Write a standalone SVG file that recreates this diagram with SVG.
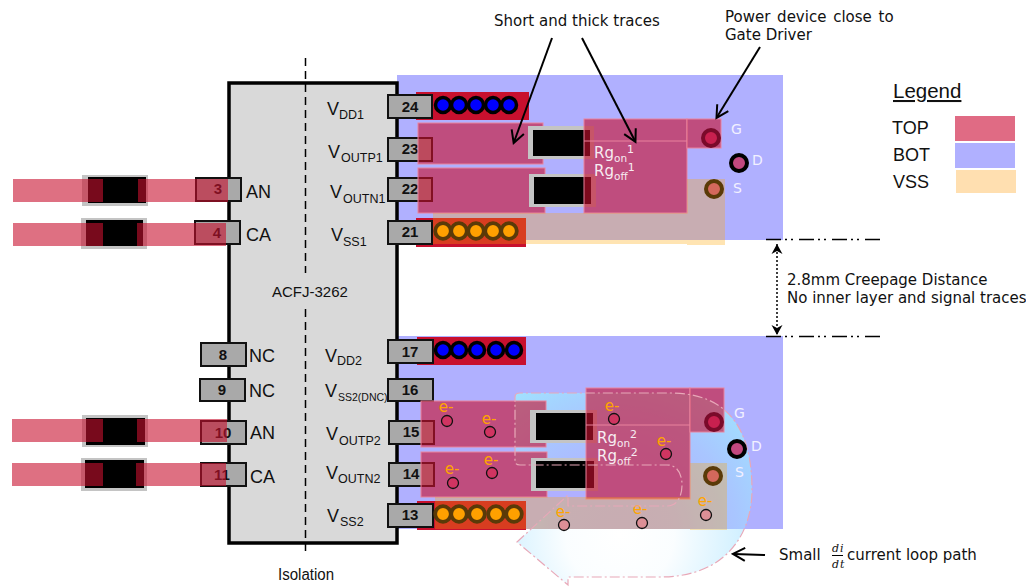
<svg xmlns="http://www.w3.org/2000/svg" width="1026" height="588" viewBox="0 0 1026 588">
<style>
text{font-family:"Liberation Sans",Arial,sans-serif;fill:#111}
.v{font-family:"DejaVu Sans",Verdana,sans-serif;font-size:15px}
.lab{font-size:18px}
.sub{font-size:12.500px}
.num{font-size:15px;font-weight:bold;text-anchor:middle}
.pin{fill:#a9a9a9;stroke:#111;stroke-width:2}
.top{fill:#c8102e;fill-opacity:.6}
.pad{fill:#c8102e;fill-opacity:.62;stroke:#e9839d;stroke-width:1}
.vss{fill:#ffa500;fill-opacity:.3}
.strip{fill:#c8102e}
.halo{fill:#c4c4c4}
.blk{fill:#000}
.vb{fill:#0000ff;stroke:#000;stroke-width:3.500}
.vo{fill:#ffa000;stroke:#5a3a08;stroke-width:3.800}
.lbl{font-family:"DejaVu Sans",Verdana,sans-serif;font-size:14px;fill:#f2f0ff}
.rg{font-family:"DejaVu Sans",Verdana,sans-serif;fill:#f7ecf2;font-size:15px}
.e{font-family:"DejaVu Sans",Verdana,sans-serif;fill:#ffa500;font-size:15px;text-anchor:middle}
.ev{fill:#d2305c;fill-opacity:.85;stroke:#111;stroke-width:1.300}
.ar{fill:none;stroke:#000;stroke-width:2}
</style>
<defs>
<radialGradient id="loopG" gradientUnits="userSpaceOnUse" cx="620" cy="535" r="180">
<stop offset="0" stop-color="#a0e0ff" stop-opacity="0"/><stop offset=".3" stop-color="#a0e0ff" stop-opacity=".05"/><stop offset=".65" stop-color="#a0e0ff" stop-opacity=".45"/><stop offset="1" stop-color="#a0e4ff" stop-opacity="1"/>
</radialGradient>
<marker id="op" markerWidth="16" markerHeight="16" refX="13" refY="8" orient="auto" markerUnits="userSpaceOnUse">
<path d="M2 1.500L14 8L2 14.500" fill="none" stroke="#000" stroke-width="2"/>
</marker>
<marker id="dotE" markerWidth="12" markerHeight="12" refX="10" refY="6" orient="auto-start-reverse" markerUnits="userSpaceOnUse">
<path d="M0 .5L10 6L0 11.500L3 6Z" fill="#000"/>
</marker>
</defs>

<g id="board">
<rect x="397" y="75" width="386" height="165" fill="#b0b0ff"/>
<rect x="397" y="336" width="386" height="193" fill="#b0b0ff"/>
</g>

<g id="loop-fill">
<path d="M515 397Q515 393 520 393H670C725 393 752 425 752 490C752 535 725 577 660 577H568V585L517 542L568 495V506H667C678 506 682 495 682 485C682 475 678 465 667 465H520Q515 465 515 461Z" fill="url(#loopG)"/>
</g>

<g id="chip">
<rect x="229" y="83" width="168" height="460" fill="#d9d9d9" stroke="#000" stroke-width="3.500"/>
<path d="M305.500 58V273M305.500 309V556" stroke="#000" stroke-width="1.500" stroke-dasharray="8 5" fill="none"/>
<text x="272" y="297" font-size="15">ACFJ-3262</text>
<text x="278" y="580" font-size="16" textLength="56" lengthAdjust="spacingAndGlyphs">Isolation</text>
</g>

<g id="strips">
<rect class="strip" x="416" y="92" width="113" height="28"/>
<rect class="strip" x="416" y="218" width="110" height="29"/>
<rect class="strip" x="417" y="337" width="109" height="28"/>
<rect class="strip" x="417" y="501" width="109" height="29"/>
</g>

<g id="pins-right">
<g id="pin24"><rect class="pin" x="388" y="95" width="44" height="23"/><text class="num" x="410" y="112">24</text></g>
<g id="pin23"><rect class="pin" x="388" y="138" width="44" height="23"/><text class="num" x="410" y="154">23</text></g>
<g id="pin22"><rect class="pin" x="388" y="178" width="44" height="23"/><text class="num" x="410" y="194">22</text></g>
<g id="pin21"><rect class="pin" x="388" y="221" width="44" height="23"/><text class="num" x="410" y="237">21</text></g>
<g id="pin17"><rect class="pin" x="388" y="340" width="45" height="23"/><text class="num" x="410" y="357">17</text></g>
<g id="pin16"><rect class="pin" x="388" y="379" width="45" height="22"/><text class="num" x="410" y="395">16</text></g>
<g id="pin15"><rect class="pin" x="389" y="421" width="45" height="23"/><text class="num" x="411" y="437">15</text></g>
<g id="pin14"><rect class="pin" x="389" y="463" width="45" height="23"/><text class="num" x="411" y="479">14</text></g>
<g id="pin13"><rect class="pin" x="388" y="504" width="45" height="23"/><text class="num" x="410" y="520">13</text></g>
</g>
<g id="pins-left">
<g id="pin3"><rect class="pin" x="196" y="178" width="45" height="23"/><text class="num" x="218" y="194">3</text></g>
<g id="pin4"><rect class="pin" x="195" y="221" width="45" height="23"/><text class="num" x="217" y="238">4</text></g>
<g id="pin8"><rect class="pin" x="201" y="343" width="45" height="23"/><text class="num" x="223" y="360">8</text></g>
<g id="pin9"><rect class="pin" x="200" y="379" width="45" height="22"/><text class="num" x="222" y="395">9</text></g>
<g id="pin10"><rect class="pin" x="201" y="421" width="45" height="23"/><text class="num" x="223" y="438">10</text></g>
<g id="pin11"><rect class="pin" x="201" y="463" width="45" height="23"/><text class="num" x="222" y="480">11</text></g>
</g>

<g id="chip-labels">
<text class="lab" x="246" y="198">AN</text><text class="lab" x="246" y="241">CA</text>
<text class="lab" x="249" y="362">NC</text><text class="lab" x="249" y="397">NC</text>
<text class="lab" x="250" y="439">AN</text><text class="lab" x="250" y="483">CA</text>
<text class="lab" x="327" y="115">V</text><text class="sub" x="339" y="119">DD1</text>
<text class="lab" x="328" y="158">V</text><text class="sub" x="341" y="162">OUTP1</text>
<text class="lab" x="330" y="198">V</text><text class="sub" x="343" y="203">OUTN1</text>
<text class="lab" x="331" y="241">V</text><text class="sub" x="343" y="246">SS1</text>
<text class="lab" x="325" y="362">V</text><text class="sub" x="337" y="365">DD2</text>
<text class="lab" x="325" y="397">V</text><text x="338" y="401" font-size="10.500">SS2(DNC)</text>
<text class="lab" x="326" y="440">V</text><text class="sub" x="339" y="445">OUTP2</text>
<text class="lab" x="326" y="479">V</text><text class="sub" x="338" y="483">OUTN2</text>
<text class="lab" x="327" y="522">V</text><text class="sub" x="340" y="526">SS2</text>
</g>

<g id="diodes">
<g id="d1"><rect class="halo" x="82" y="175" width="66" height="31"/><rect class="blk" x="88" y="177" width="58" height="26"/></g>
<g id="d2"><rect class="halo" x="81" y="218" width="66" height="31"/><rect class="blk" x="86" y="220" width="57" height="26"/></g>
<g id="d3"><rect class="halo" x="82" y="415" width="66" height="32"/><rect class="blk" x="86" y="418" width="59" height="27"/></g>
<g id="d4"><rect class="halo" x="81" y="458" width="66" height="33"/><rect class="blk" x="85" y="460" width="59" height="28"/></g>
</g>
<g id="traces-left">
<rect class="top" x="13" y="179" width="90" height="23"/><rect class="top" x="138" y="179" width="90" height="23"/>
<rect class="top" x="13" y="223" width="90" height="23"/><rect class="top" x="137" y="223" width="89" height="23"/>
<rect class="top" x="12" y="419" width="91" height="23"/><rect class="top" x="137" y="419" width="90" height="23"/>
<rect class="top" x="12" y="463" width="91" height="23"/><rect class="top" x="136" y="463" width="90" height="23"/>
</g>

<g id="upper-layout">
<rect class="pad" x="418" y="123" width="125" height="41"/>
<rect class="pad" x="418" y="168" width="127" height="45"/>
<g id="r1"><rect class="halo" x="528" y="126" width="66" height="33"/><rect class="blk" x="533" y="130" width="57" height="26"/></g>
<g id="r2"><rect class="halo" x="529" y="174" width="67" height="33"/><rect class="blk" x="534" y="177" width="57" height="27"/></g>
<rect class="pad" x="584" y="119" width="103" height="94"/>
<path d="M584 141H687" stroke="#e9839d" stroke-width="1" fill="none"/>
<rect class="pad" x="687" y="119" width="34" height="29"/>
<rect class="vss" x="433" y="213" width="254" height="31"/>
<rect class="vss" x="687" y="179" width="38" height="66"/>
<circle class="vb" cx="443" cy="105" r="7.500"/><circle class="vb" cx="459" cy="105" r="7.500"/><circle class="vb" cx="476" cy="105" r="7.500"/><circle class="vb" cx="493" cy="105" r="7.500"/><circle class="vb" cx="509" cy="105" r="7.500"/>
<circle class="vo" cx="443" cy="231" r="7.800"/><circle class="vo" cx="459" cy="231" r="7.800"/><circle class="vo" cx="476" cy="231" r="7.800"/><circle class="vo" cx="493" cy="231" r="7.800"/><circle class="vo" cx="509" cy="231" r="7.800"/>
<g id="G1"><circle cx="711" cy="138" r="8" fill="#c8204f" stroke="#7a0a2a" stroke-width="4"/><text class="lbl" x="731" y="134">G</text></g>
<g id="D1"><circle cx="739" cy="163" r="8" fill="#c2487f" stroke="#000" stroke-width="4"/><text class="lbl" x="752" y="165">D</text></g>
<g id="S1"><circle cx="714" cy="189" r="8" fill="#d4685c" stroke="#5a3a08" stroke-width="4"/><text class="lbl" x="733" y="193">S</text></g>
<text class="rg" x="594" y="158">Rg<tspan font-size="10.500" dy="4">on</tspan><tspan font-size="11" dy="-9">1</tspan></text>
<text class="rg" x="594" y="176">Rg<tspan font-size="10.500" dy="4">off</tspan><tspan font-size="11" dy="-9">1</tspan></text>
</g>

<g id="lower-layout">
<rect class="pad" x="421" y="401" width="125" height="46"/>
<rect class="pad" x="421" y="452" width="126" height="45"/>
<g id="r3"><rect class="halo" x="530" y="410" width="67" height="33"/><rect class="blk" x="536" y="413" width="57" height="27"/></g>
<g id="r4"><rect class="halo" x="531" y="458" width="67" height="33"/><rect class="blk" x="536" y="461" width="58" height="27"/></g>
<rect class="pad" x="586" y="388" width="104" height="111"/>
<path d="M586 425H690" stroke="#e9839d" stroke-width="1" fill="none"/>
<rect class="pad" x="690" y="388" width="34" height="44"/>
<rect class="vss" x="435" y="497" width="255" height="32"/>
<rect class="vss" x="690" y="463" width="37" height="67"/>
<circle class="vb" cx="443" cy="350" r="7.500"/><circle class="vb" cx="459" cy="350" r="7.500"/><circle class="vb" cx="477" cy="350" r="7.500"/><circle class="vb" cx="496" cy="350" r="7.500"/><circle class="vb" cx="514" cy="350" r="7.500"/>
<circle class="vo" cx="443" cy="514" r="7.800"/><circle class="vo" cx="459" cy="514" r="7.800"/><circle class="vo" cx="477" cy="514" r="7.800"/><circle class="vo" cx="496" cy="514" r="7.800"/><circle class="vo" cx="514" cy="514" r="7.800"/>
<text class="rg" x="597" y="443">Rg<tspan font-size="10.500" dy="4">on</tspan><tspan font-size="11" dy="-9">2</tspan></text>
<text class="rg" x="597" y="461">Rg<tspan font-size="10.500" dy="4">off</tspan><tspan font-size="11" dy="-9">2</tspan></text>
<circle class="ev" cx="447" cy="421" r="5.500"/><text class="e" x="446" y="412">e-</text>
<circle class="ev" cx="490" cy="432" r="5.500"/><text class="e" x="489" y="424">e-</text>
<circle class="ev" cx="492" cy="473" r="5.500"/><text class="e" x="491" y="465">e-</text>
<circle class="ev" cx="453" cy="483" r="5.500"/><text class="e" x="452" y="474">e-</text>
<circle class="ev" cx="614" cy="419" r="5.500"/><text class="e" x="612" y="411">e-</text>
<circle class="ev" cx="666" cy="454" r="5.500"/><text class="e" x="664" y="446">e-</text>
<circle class="ev" cx="564" cy="525" r="5.500" style="fill:#e08a90"/><text class="e" x="563" y="517">e-</text>
<circle class="ev" cx="642" cy="523" r="5.500" style="fill:#e08a90"/><text class="e" x="640" y="514">e-</text>
<circle class="ev" cx="706" cy="515" r="5.500" style="fill:#e08a90"/><text class="e" x="705" y="506">e-</text>
</g>

<g id="loop-outline">
<path d="M515 397Q515 393 520 393H670C725 393 752 425 752 490C752 535 725 577 660 577H568V585L517 542L568 495V506H667C678 506 682 495 682 485C682 475 678 465 667 465H520Q515 465 515 461Z" fill="none" stroke="#e8a8b8" stroke-width="1.200" stroke-dasharray="10 3 2 3"/>
</g>

<g id="lower-device">
<g id="G2"><circle cx="714" cy="422" r="8" fill="#c8204f" stroke="#7a0a2a" stroke-width="4"/><text class="lbl" x="734" y="418">G</text></g>
<g id="D2"><circle cx="737" cy="449" r="8" fill="#c2487f" stroke="#000" stroke-width="4"/><text class="lbl" x="751" y="451">D</text></g>
<g id="S2"><circle cx="713" cy="476" r="8" fill="#d4685c" stroke="#5a3a08" stroke-width="4"/><text class="lbl" x="735" y="477">S</text></g>
</g>

<g id="connectors">
<path class="ar" d="M552 38L514 142" marker-end="url(#op)"/>
<path class="ar" d="M582 38L635 141" marker-end="url(#op)"/>
<path class="ar" d="M760 47L717 117" marker-end="url(#op)"/>
<path class="ar" d="M765 555L734 554" marker-end="url(#op)"/>
<path d="M777 244V335" fill="none" stroke="#000" stroke-width="1.500" stroke-dasharray="2 2" marker-start="url(#dotE)" marker-end="url(#dotE)"/>
<path d="M766 239.500H880M766 336.500H880" fill="none" stroke="#000" stroke-width="1.500" stroke-dasharray="15 4 2 4 2 6"/>
</g>

<g id="annotations">
<text class="v" x="494" y="26">Short and thick traces</text>
<text class="v" x="725" y="22" word-spacing="2">Power device close to</text>
<text class="v" x="725" y="40">Gate Driver</text>
<text class="v" x="787" y="285">2.8mm Creepage Distance</text>
<text class="v" x="787" y="303">No inner layer and signal traces</text>
<text class="v" x="779" y="560">Small</text>
<text x="832" y="552" font-size="11" font-style="italic" style="font-family:'DejaVu Serif',serif" letter-spacing="1">di</text>
<path d="M832 555.500H843" stroke="#000" stroke-width="1" fill="none"/>
<text x="832" y="568" font-size="11" font-style="italic" style="font-family:'DejaVu Serif',serif" letter-spacing="1">dt</text>
<text class="v" x="847" y="560">current loop path</text>
</g>

<g id="legend">
<text x="893" y="98" font-size="20.500" text-decoration="underline">Legend</text>
<text x="892" y="134" font-size="18">TOP</text>
<text x="893" y="161" font-size="18">BOT</text>
<text x="893" y="188" font-size="18">VSS</text>
<rect x="955" y="116" width="60" height="25" fill="#e06b84"/>
<rect x="955" y="143" width="60" height="25" fill="#b0b0ff"/>
<rect x="956" y="170" width="60" height="23" fill="#ffdfb0"/>
</g>
</svg>
